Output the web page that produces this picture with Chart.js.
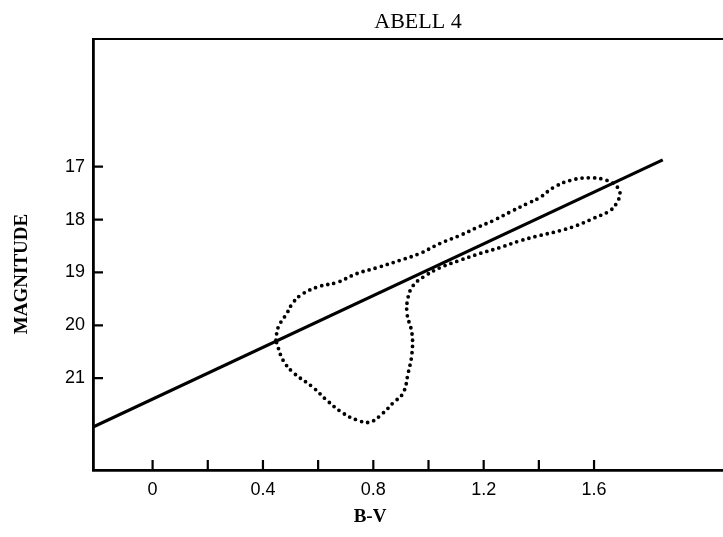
<!DOCTYPE html>
<html lang="en">
<head>
  <meta charset="UTF-8" />
  <title>ABELL 4</title>
  <style>
    body { margin: 0; background: #fff; }
    #cmd { display: block; }
  </style>
</head>
<body>
  <canvas id="cmd" width="723" height="537"></canvas>

  <script src="https://cdn.jsdelivr.net/npm/chart.js"></script>
  <script>
    // outline of the cluster sequence (B-V, magnitude)
    const loopBV  = [0.447, 0.455, 0.487, 0.509, 0.545, 0.607, 0.668, 0.741, 0.813, 0.897,
                     0.969, 1.042, 1.114, 1.176, 1.234, 1.306, 1.357, 1.404, 1.451, 1.513,
                     1.585, 1.647, 1.687, 1.694, 1.683, 1.658, 1.596, 1.538, 1.477, 1.404,
                     1.332, 1.259, 1.187, 1.114, 1.042, 0.980, 0.944, 0.926, 0.922, 0.940,
                     0.940, 0.926, 0.908, 0.871, 0.835, 0.788, 0.741, 0.690, 0.632, 0.581,
                     0.509, 0.473, 0.455, 0.447];
    const loopMag = [20.28, 20.04, 19.77, 19.57, 19.40, 19.26, 19.19, 19.02, 18.91, 18.77,
                     18.64, 18.45, 18.30, 18.15, 18.02, 17.83, 17.70, 17.58, 17.40, 17.26,
                     17.21, 17.26, 17.40, 17.51, 17.68, 17.83, 17.98, 18.11, 18.21, 18.30,
                     18.40, 18.53, 18.64, 18.77, 18.91, 19.09, 19.25, 19.47, 19.77, 20.15,
                     20.53, 20.91, 21.28, 21.47, 21.66, 21.83, 21.79, 21.66, 21.42, 21.17,
                     20.89, 20.66, 20.42, 20.28];

    // straight fitted line
    const fitBV  = [-0.216, 1.849];
    const fitMag = [21.925, 16.87];

    // axis ticks
    const xTicks = [0, 0.2, 0.4, 0.6, 0.8, 1.0, 1.2, 1.4, 1.6];
    const xLabels = ['0', '', '0.4', '', '0.8', '', '1.2', '', '1.6'];
    const yTicks = [17, 18, 19, 20, 21];

    const toPts = (xs, ys) => xs.map((x, i) => ({ x: x, y: ys[i] }));

    // frame extras: top line, inward tick marks, titles
    const framePlugin = {
      id: 'frame',
      afterDraw(chart) {
        const c = chart.ctx;
        const a = chart.chartArea;
        const xs = chart.scales.x, ys = chart.scales.y;
        c.save();
        c.strokeStyle = '#000';
        c.lineWidth = 2.2;
        c.beginPath();
        c.moveTo(a.left - 1, a.top);
        c.lineTo(a.right, a.top);
        c.stroke();

        c.lineWidth = 2.2;
        c.beginPath();
        yTicks.forEach(v => {
          const y = ys.getPixelForValue(v);
          c.moveTo(a.left, y);
          c.lineTo(a.left + 10, y);
        });
        xTicks.forEach(v => {
          const x = xs.getPixelForValue(v);
          c.moveTo(x, a.bottom);
          c.lineTo(x, a.bottom - 10);
        });
        c.stroke();

        c.fillStyle = '#000';
        c.textAlign = 'center';
        c.textBaseline = 'middle';
        c.font = '22px "Liberation Serif"';
        c.fillText('ABELL 4', 418, 22);
        c.font = 'bold 19px "Liberation Serif"';
        c.fillText('B-V', 370, 517);
        c.translate(22, 274);
        c.rotate(-Math.PI / 2);
        c.font = 'bold 19px "Liberation Serif"';
        c.fillText('MAGNITUDE', 0, 0);
        c.restore();
      }
    };

    new Chart(document.getElementById('cmd'), {
      type: 'scatter',
      data: {
        datasets: [
          {
            data: toPts(fitBV, fitMag),
            showLine: true,
            borderColor: '#000',
            borderWidth: 3.2,
            pointRadius: 0
          },
          {
            data: toPts(loopBV, loopMag),
            showLine: true,
            borderColor: '#000',
            borderWidth: 3.8,
            borderDash: [0, 6.3],
            borderCapStyle: 'round',
            borderJoinStyle: 'round',
            tension: 0.4,
            pointRadius: 0
          }
        ]
      },
      options: {
        responsive: false,
        animation: false,
        layout: { padding: { top: 39, left: 0, right: 0, bottom: 0 } },
        plugins: { legend: { display: false }, tooltip: { enabled: false } },
        scales: {
          x: {
            type: 'linear',
            min: -0.216,
            max: 2.0674,
            afterFit(s) { s.height = 67; },
            afterBuildTicks(s) { s.ticks = xTicks.map(v => ({ value: v })); },
            grid: { display: false, drawTicks: false },
            border: { display: true, color: '#000', width: 2.8 },
            ticks: {
              color: '#000',
              padding: 9,
              maxRotation: 0,
              autoSkip: false,
              font: { family: '"Liberation Sans"', size: 18 },
              callback: (v, i) => xLabels[i]
            }
          },
          y: {
            type: 'linear',
            reverse: true,
            min: 14.585,
            max: 22.736,
            afterFit(s) { s.width = 93; },
            afterBuildTicks(s) { s.ticks = yTicks.map(v => ({ value: v })); },
            grid: { display: false, drawTicks: false },
            border: { display: true, color: '#000', width: 2.8 },
            ticks: {
              color: '#000',
              padding: 8,
              autoSkip: false,
              font: { family: '"Liberation Sans"', size: 18 },
              callback: v => String(v)
            }
          }
        }
      },
      plugins: [framePlugin]
    });
  </script>
</body>
</html>
